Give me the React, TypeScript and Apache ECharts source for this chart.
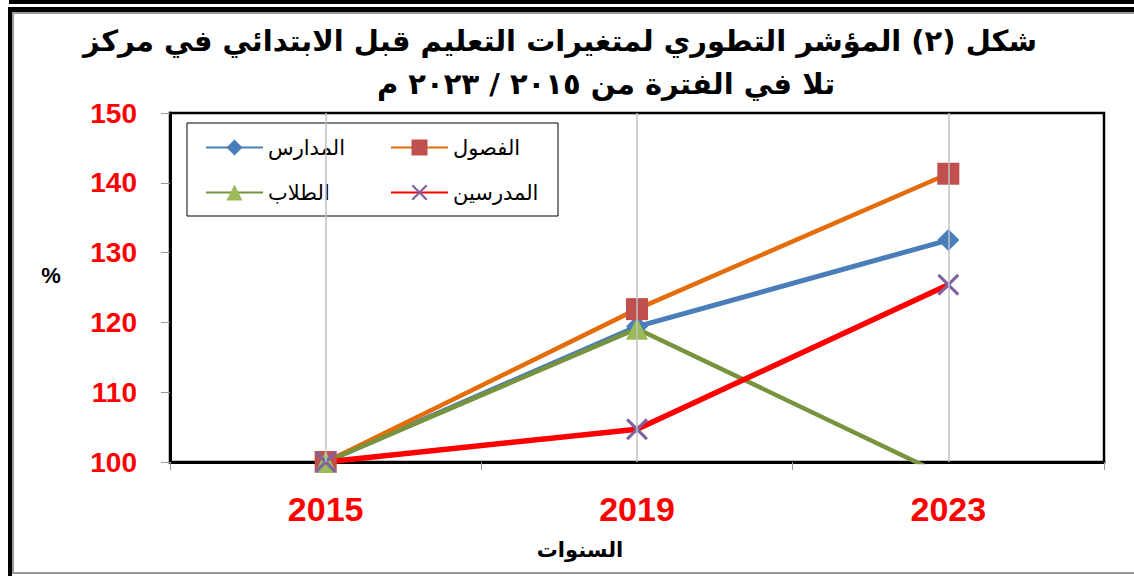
import React, { useEffect, useRef } from 'react';
import * as echarts from 'echarts';

const categories = ['2015', '2019', '2023'];
const seriesNames = ['المدارس', 'الفصول', 'الطلاب', 'المدرسين'];
const schools = [100, 119.4, 131.8];
const classes = [100, 121.9, 141.3];
const students = [100, 119.1, 97.8];
const teachers = [100, 104.7, 125.4];
const yMin = 100;
const yMax = 150;
const yStep = 10;
const titleLines = [
  'شكل (٢) المؤشر التطوري لمتغيرات التعليم قبل الابتدائي في مركز',
  'تلا في الفترة من ٢٠١٥ / ٢٠٢٣ م',
];
const xAxisTitle = 'السنوات';
const yAxisTitle = '%';

const X_SYMBOL =
  'path://M2,0 L10,8 L18,0 L20,2 L12,10 L20,18 L18,20 L10,12 L2,20 L0,18 L8,10 L0,2 Z';

export default function App() {
  const ref = useRef<HTMLDivElement>(null);
  useEffect(() => {
    document.body.style.margin = '0';
    const chart = echarts.init(ref.current!, null, { renderer: 'svg' });
    const arabicFont = '"DejaVu Sans", "Liberation Sans", sans-serif';
    const numFont = '"Liberation Sans", Arial, sans-serif';
    const mk = (name: string, data: number[], lineColor: string, symbol: string, symColor: string, size: number, lw: number) => ({
      name,
      type: 'line',
      data,
      z: 2,
      symbol,
      symbolSize: size,
      lineStyle: { color: lineColor, width: lw },
      itemStyle: { color: symColor, borderWidth: 0 },
      color: lineColor,
      emphasis: { disabled: true },
    });
    const legendPos = [
      { left: 205, top: 137 },
      { left: 390, top: 137 },
      { left: 205, top: 182 },
      { left: 390, top: 182 },
    ];
    const titleStyle = { fontFamily: arabicFont, fontSize: 29, fontWeight: 'bold', color: '#000' };
    chart.setOption({
      animation: false,
      backgroundColor: '#fff',
      title: [
        { text: titleLines[0], left: 560, textAlign: 'center', top: 26, padding: 0, textStyle: titleStyle },
        { text: titleLines[1], left: 606, textAlign: 'center', top: 69, padding: 0, textStyle: titleStyle },
      ],
      grid: {
        left: 170,
        right: 30,
        top: 113,
        bottom: 114,
        show: true,
        borderColor: '#000',
        borderWidth: 2.5,
        backgroundColor: 'transparent',
      },
      legend: seriesNames.map((n, i) => ({
        data: [n],
        left: legendPos[i].left,
        top: legendPos[i].top,
        padding: 0,
        itemWidth: 57,
        itemHeight: 20,
        selectedMode: false,
        textStyle: { fontFamily: arabicFont, fontSize: 21, color: '#000' },
      })),
      xAxis: {
        type: 'category',
        data: categories,
        boundaryGap: true,
        axisLine: { lineStyle: { color: '#000', width: 3 } },
        axisTick: { show: true, length: 8, lineStyle: { color: '#999', width: 1 } },
        axisLabel: { color: '#ff0000', fontFamily: numFont, fontWeight: 'bold', fontSize: 34, margin: 30 },
        splitLine: { show: false },
      },
      yAxis: {
        type: 'value',
        min: yMin,
        max: yMax,
        interval: yStep,
        axisLine: { show: true, lineStyle: { color: '#000', width: 3 } },
        axisTick: { show: true, length: 9, lineStyle: { color: '#999', width: 1 } },
        axisLabel: { color: '#ff0000', fontFamily: numFont, fontWeight: 'bold', fontSize: 28, margin: 33 },
        splitLine: { show: false },
      },
      series: [
        {
          name: 'grid',
          type: 'line',
          data: [null, null, null],
          z: 1,
          silent: true,
          markLine: {
            silent: true,
            symbol: ['none', 'none'],
            label: { show: false },
            lineStyle: { color: '#c0c0c0', width: 1.5, type: 'solid' },
            data: categories.map((c) => ({ xAxis: c })),
          },
        },
        mk(seriesNames[0], schools, '#4a7ebb', 'diamond', '#4a7ebb', 22, 5),
        mk(seriesNames[1], classes, '#e46c0a', 'rect', '#c0504d', 22, 4.5),
        mk(seriesNames[2], students, '#77933c', 'triangle', '#9bbb59', 22, 4.5),
        mk(seriesNames[3], teachers, '#ff0000', X_SYMBOL, '#8064a2', 22, 5.5),
      ],
      graphic: [
        { type: 'rect', z: 3, shape: { x: 187, y: 123, width: 371, height: 93 }, style: { fill: '#fff', stroke: '#000', lineWidth: 1 } },
        { type: 'text', z: 5, x: 51, y: 275, style: { text: yAxisTitle, fontFamily: numFont, fontWeight: 'bold', fontSize: 22, fill: '#000', align: 'center', verticalAlign: 'middle' } },
        { type: 'text', z: 5, x: 580, y: 550, style: { text: xAxisTitle, fontFamily: arabicFont, fontWeight: 'bold', fontSize: 21, fill: '#000', align: 'center', verticalAlign: 'middle' } },
        { type: 'rect', z: 5, shape: { x: 9, y: 0, width: 1125, height: 4 }, style: { fill: '#000' } },
        { type: 'rect', z: 5, shape: { x: 8, y: 7, width: 1126, height: 5 }, style: { fill: '#000' } },
        { type: 'rect', z: 5, shape: { x: 8, y: 7, width: 4, height: 569 }, style: { fill: '#000' } },
        { type: 'rect', z: 5, shape: { x: 12, y: 12, width: 1122, height: 2 }, style: { fill: '#999' } },
        { type: 'rect', z: 5, shape: { x: 12, y: 12, width: 2, height: 560 }, style: { fill: '#999' } },
        { type: 'rect', z: 5, shape: { x: 12, y: 572, width: 1122, height: 2 }, style: { fill: '#999' } },
      ],
    });
    return () => chart.dispose();
  }, []);
  return <div ref={ref} style={{ width: 1134, height: 576 }} />;
}
